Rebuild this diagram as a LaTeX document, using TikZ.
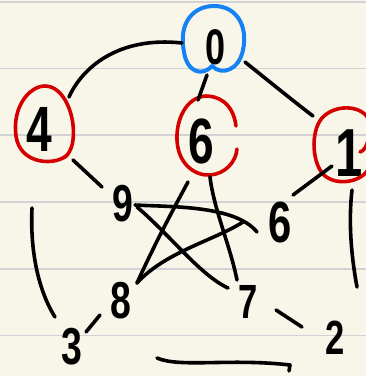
\documentclass[tikz,border=0pt]{standalone}
\usepackage{fontspec}
\newfontfamily\hand[FakeStretch=0.72]{Liberation Sans Bold}
\definecolor{paper}{RGB}{248,246,233}
\definecolor{rulegray}{RGB}{210,210,214}
\definecolor{penred}{RGB}{212,0,0}
\definecolor{penblue}{RGB}{20,130,245}
\tikzset{
  digit/.style={inner sep=0pt, outer sep=0pt, text=black},
  stroke/.style={draw=black, line width=3.6pt, line cap=round, line join=round},
  redring/.style={draw=penred, line width=3.6pt, line cap=round, line join=round},
  bluering/.style={draw=penblue, line width=4pt, line cap=round, line join=round},
  ruleline/.style={draw=rulegray, line width=1.5pt}
}
\newcommand{\fs}[1]{\hand\fontsize{#1}{#1}\selectfont}
\begin{document}
\begin{tikzpicture}[x=1pt,y=-1pt]
\useasboundingbox (0,0) rectangle (366,376);
\clip (0,0) rectangle (366,376);
\fill[paper] (0,0) rectangle (366,376);
\foreach \yy in {2,68.5,135,202,269,335.5}
  \draw[ruleline] (0,\yy) -- (366,\yy);

% digits
\node[digit, font=\fs{50}] (n0) at (216,47) {0};
\node[digit, font=\fs{64}] (n4) at (39,129) {4};
\node[digit, font=\fs{64}] (n6t) at (201,141) {6};
\node[digit, font=\fs{68}] (n1) at (349,153) {1};
\node[digit, font=\fs{52}] (n9) at (123,204) {9};
\node[digit, font=\fs{58}] (n6b) at (280,223) {6};
\node[digit, font=\fs{52}] (n8) at (121,301) {8};
\node[digit, font=\fs{48}] (n7) at (248,302) {7};
\node[digit, font=\fs{52}] (n3) at (72,347) {3};
\node[digit, font=\fs{48}] (n2) at (335,338) {2};

% rings
\draw[bluering] (212,66) .. controls (202,77) and (187,72) .. (184,52)
  .. controls (178,22) and (194,6) .. (214,6)
  .. controls (238,6) and (248,28) .. (243,50)
  .. controls (239,70) and (222,76) .. (212,66);
\draw[redring] (68,154) .. controls (58,166) and (20,166) .. (16,136)
  .. controls (12,106) and (30,86) .. (45,86)
  .. controls (64,86) and (76,116) .. (73,140)
  .. controls (72,150) and (66,158) .. (63,158);
\draw[redring] (236,126) .. controls (233,102) and (217,96) .. (206,96)
  .. controls (186,97) and (176,120) .. (177,140)
  .. controls (178,164) and (195,176) .. (210,175)
  .. controls (225,174) and (236,162) .. (237,149);
\draw[redring] (360,152) .. controls (368,150) and (372,130) .. (368,118)
  .. controls (360,105) and (335,104) .. (322,118)
  .. controls (310,132) and (312,165) .. (325,176)
  .. controls (338,186) and (360,182) .. (368,170);

% edge end points
\coordinate (a04) at (69,97);   \coordinate (b04) at (182,43);
\coordinate (a06) at (207,75);  \coordinate (b06) at (198,100);
\coordinate (a01) at (245,62);  \coordinate (b01) at (313,116);
\coordinate (a49) at (73,160);  \coordinate (b49) at (102,187);
\coordinate (a67) at (210,177); \coordinate (b67) at (237,280);
\coordinate (a68) at (188,182); \coordinate (b68) at (137,283);
\coordinate (a86) at (137,283); \coordinate (b86) at (243,222);
\coordinate (a96) at (135,205); \coordinate (b96) at (257,232);
\coordinate (a97) at (137,207); \coordinate (b97) at (228,288);
\coordinate (a16) at (332,166); \coordinate (b16) at (293,195);
\coordinate (a12) at (352,190); \coordinate (b12) at (357,287);
\coordinate (a72) at (276,310); \coordinate (b72) at (302,327);
\coordinate (a23) at (157,358); \coordinate (b23) at (289,371);
\coordinate (a38) at (86,332);  \coordinate (b38) at (100,315);
\coordinate (a34) at (32,208);  \coordinate (b34) at (55,317);

% edges
\draw[stroke] (a04) .. controls (82,68) and (118,36) .. (b04);
\draw[stroke] (a06) -- (b06);
\draw[stroke] (a01) .. controls (270,82) and (292,100) .. (b01);
\draw[stroke] (a49) -- (b49);
\draw[stroke] (a67) .. controls (214,210) and (230,245) .. (b67);
\draw[stroke] (a68) .. controls (170,215) and (152,250) .. (b68);
\draw[stroke] (a86) .. controls (165,252) and (215,240) .. (b86);
\draw[stroke] (a96) .. controls (170,207) and (235,205) .. (b96);
\draw[stroke] (a97) .. controls (170,235) and (200,275) .. (b97);
\draw[stroke] (a16) -- (b16);
\draw[stroke] (a12) .. controls (348,225) and (352,260) .. (b12);
\draw[stroke] (a72) -- (b72);
\draw[stroke] (a23) .. controls (180,368) and (230,358) .. (290,365) -- (b23);
\draw[stroke] (a38) -- (b38);
\draw[stroke] (a34) .. controls (30,250) and (38,290) .. (b34);
\end{tikzpicture}
\end{document}
